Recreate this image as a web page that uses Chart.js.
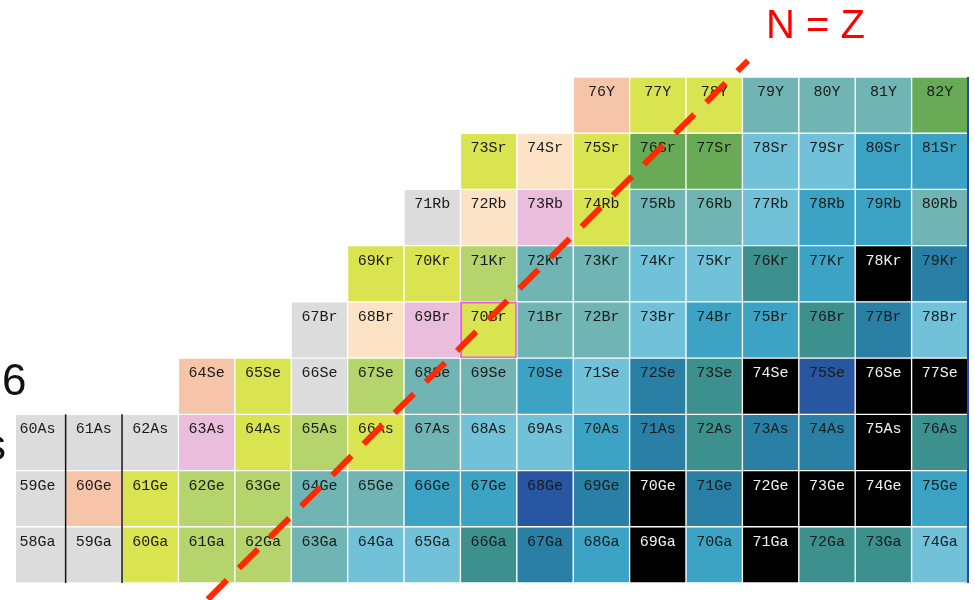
<!DOCTYPE html>
<html>
<head>
<meta charset="utf-8">
<script src="https://cdn.jsdelivr.net/npm/chart.js@4/dist/chart.umd.min.js"></script>
<style>
  body { margin: 0; background: #fff; }
  canvas { display: block; }
</style>
</head>
<body>
<canvas id="nuclideChart" width="975" height="600"></canvas>
<script>
// element rows, bottom to top
const symbols = ['Ga', 'Ge', 'As', 'Se', 'Br', 'Kr', 'Rb', 'Sr', 'Y'];
const protonZ = [31, 32, 33, 34, 35, 36, 37, 38, 39];
const firstN = [27, 27, 27, 30, 32, 33, 34, 35, 37];
const lastN = 43;

// class of each cell, from firstN up to lastN (index into palette below)
const gaClass = [0, 0, 4, 5, 5, 7, 8, 8, 10, 11, 9, 13, 9, 13, 10, 10, 8];
const geClass = [0, 1, 4, 5, 5, 7, 7, 9, 9, 12, 11, 13, 11, 13, 13, 13, 9];
const asClass = [0, 0, 0, 3, 4, 5, 4, 7, 8, 8, 9, 11, 10, 11, 11, 13, 10];
const seClass = [1, 4, 0, 5, 7, 7, 9, 8, 11, 10, 13, 12, 13, 13];
const brClass = [0, 2, 3, 4, 7, 7, 8, 9, 9, 10, 11, 8];
const krClass = [4, 4, 5, 7, 7, 8, 8, 10, 9, 13, 11];
const rbClass = [0, 2, 3, 4, 7, 7, 8, 9, 9, 7];
const srClass = [4, 2, 4, 6, 6, 8, 8, 9, 9];
const yClass = [1, 4, 4, 7, 7, 7, 6];
const rowClasses = [gaClass, geClass, asClass, seClass, brClass, krClass, rbClass, srClass, yClass];

// highlighted nuclide
const markedA = 70;
const markedSym = 'Br';

// N = Z guide line (N, Z)
const nzLineN = [30.02, 39.6];
const nzLineZ = [30.21, 39.79];

// drip line marks (N between cells) over Z range
const dripN = [27.5, 28.5];
const dripZ = [30.5, 33.5];

const palette = [
  '#dcdcdc', '#f6c4a8', '#fde3c6', '#ebbddc', '#dae350', '#b6d46c', '#68aa56',
  '#70b5b3', '#71c2d9', '#3ca3c4', '#3c918e', '#2a80a4', '#2856a0', '#000000'
];

const datasets = [];

symbols.forEach((sym, r) => {
  const z = protonZ[r];
  const cls = rowClasses[r];
  const points = cls.map((c, i) => ({ x: firstN[r] + i, y: [z - 0.5, z + 0.5] }));
  const labels = cls.map((c, i) => (z + firstN[r] + i) + sym);
  datasets.push({
    type: 'bar',
    label: sym,
    data: points,
    cellText: labels,
    textColor: cls.map(c => c === 13 ? '#f2f2f2' : '#1a1a1a'),
    backgroundColor: cls.map(c => palette[c]),
    borderColor: labels.map(t => t === markedA + markedSym ? '#e85ce0' : '#ffffff'),
    borderWidth: labels.map(t => t === markedA + markedSym ? 2 : 1),
    borderSkipped: false,
    grouped: false,
    categoryPercentage: 1,
    barPercentage: 1,
    clip: 0,
    order: 3
  });
});

dripN.forEach(n => {
  datasets.push({
    type: 'line',
    data: dripZ.map(z => ({ x: n, y: z })),
    borderColor: '#111111',
    borderWidth: 1.5,
    pointRadius: 0,
    clip: false,
    order: 2
  });
});

// right frame edge
datasets.push({
  type: 'line',
  data: [{ x: lastN + 0.5, y: 30.5 }, { x: lastN + 0.5, y: 39.5 }],
  borderColor: '#2a4aa8',
  borderWidth: 2,
  pointRadius: 0,
  clip: false,
  order: 2
});

datasets.push({
  type: 'line',
  data: nzLineN.map((n, i) => ({ x: n, y: nzLineZ[i] })),
  borderColor: '#ff2a00',
  borderWidth: 6,
  borderDash: [27, 17],
  borderCapStyle: 'butt',
  pointRadius: 0,
  clip: false,
  order: 0
});

const cellLabels = {
  id: 'cellLabels',
  afterDatasetDraw(chart, args) {
    const ds = chart.data.datasets[args.index];
    if (!ds.cellText) return;
    const c = chart.ctx;
    c.save();
    c.font = '15px "Liberation Mono", "DejaVu Sans Mono", monospace';
    c.textAlign = 'center';
    c.textBaseline = 'middle';
    args.meta.data.forEach((bar, i) => {
      const top = Math.min(bar.y, bar.base);
      c.fillStyle = ds.textColor[i];
      c.fillText(ds.cellText[i], bar.x, top + 15);
    });
    c.restore();
  },
  afterDraw(chart) {
    const c = chart.ctx;
    c.save();
    c.fillStyle = '#ff0000';
    c.font = '40px "Liberation Sans", Arial, sans-serif';
    c.textBaseline = 'alphabetic';
    c.textAlign = 'left';
    c.fillText('N = Z', 766, 38);
    // slide text cut at the left edge
    c.fillStyle = '#111111';
    c.font = '44px "Liberation Sans", Arial, sans-serif';
    c.fillText('6', 2, 395);
    c.fillText('s', -16, 460);
    c.restore();
  }
};

new Chart(document.getElementById('nuclideChart'), {
  type: 'bar',
  data: { datasets },
  options: {
    responsive: false,
    animation: false,
    layout: { padding: { left: 16, right: 7, top: 77, bottom: 17 }, autoPadding: false },
    scales: {
      x: {
        type: 'linear',
        offset: false,
        min: 26.62,
        max: lastN + 0.5,
        display: false,
        ticks: { stepSize: 1, includeBounds: false }
      },
      y: {
        type: 'linear',
        offset: false,
        min: 30.5,
        max: 39.5,
        display: false,
        ticks: { stepSize: 1, includeBounds: false }
      }
    },
    plugins: {
      legend: { display: false },
      tooltip: { enabled: false }
    }
  },
  plugins: [cellLabels]
});
</script>
</body>
</html>
